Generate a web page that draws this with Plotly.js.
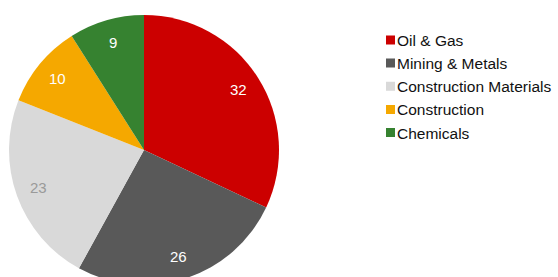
<!DOCTYPE html>
<html>
<head>
<meta charset="utf-8">
<script src="https://cdn.plot.ly/plotly-3.0.1.min.js"></script>
<style>
html,body{margin:0;padding:0;overflow:hidden;background:#fff;}
#chart{width:558px;height:300px;}
</style>
</head>
<body>
<div id="chart"></div>
<script>
const categories = ["Oil & Gas", "Mining & Metals", "Construction Materials", "Construction", "Chemicals"];
const values = [32, 26, 23, 10, 9];
const colors = ["#CC0000", "#595959", "#D9D9D9", "#F5A800", "#368230"];
const textColors = ["#FFFFFF", "#FFFFFF", "#9A9A9A", "#FFFFFF", "#FFFFFF"];

const W = 558, H = 300, MT = 15, MB = 15;
const plotH = H - MT - MB;
const pieLeft = 9, pieRight = 279;
const R = (pieRight - pieLeft) / 2;
const cxPaper = (pieLeft + R) / W;
const cyPaper = 0.5;
const labelRadius = 0.83 * R;

const trace = {
  type: "pie",
  labels: categories,
  values: values,
  sort: false,
  direction: "clockwise",
  rotation: 0,
  marker: {colors: colors, line: {width: 0}},
  textinfo: "none",
  hoverinfo: "label+value",
  domain: {x: [pieLeft / W, pieRight / W], y: [0, 1]}
};

// value labels placed along each slice's mid-angle, derived from the data
const total = values.reduce((a, b) => a + b, 0);
let cum = 0;
const annotations = values.map((v, i) => {
  const mid = (cum + v / 2) / total * 2 * Math.PI;
  cum += v;
  return {
    xref: "paper", yref: "paper",
    x: cxPaper + labelRadius * Math.sin(mid) / W,
    y: cyPaper + labelRadius * Math.cos(mid) / plotH,
    text: String(v),
    showarrow: false,
    xanchor: "center", yanchor: "middle",
    font: {family: "Liberation Sans, Arial, sans-serif", size: 15, color: textColors[i]}
  };
});

const layout = {
  width: W,
  height: H,
  margin: {l: 0, r: 0, t: MT, b: MB},
  paper_bgcolor: "#fff",
  plot_bgcolor: "#fff",
  showlegend: true,
  annotations: annotations,
  legend: {
    x: 357 / W, y: 0.969, xanchor: "left", yanchor: "top",
    font: {family: "Liberation Sans, Arial, sans-serif", size: 15.5, color: "#111"},
    bgcolor: "rgba(0,0,0,0)"
  }
};

Plotly.newPlot("chart", [trace], layout, {displayModeBar: false, staticPlot: true}).then(gd => {
  // tighten legend: smaller square swatch placed close to the text
  gd.querySelectorAll(".legend .traces .legendpoints").forEach(g => {
    g.setAttribute("transform", "translate(13.5,0)");
    g.querySelectorAll("path").forEach(p => p.setAttribute("d", "M4.5,4.5H-4.5V-4.5H4.5Z"));
  });
});
</script>
</body>
</html>
